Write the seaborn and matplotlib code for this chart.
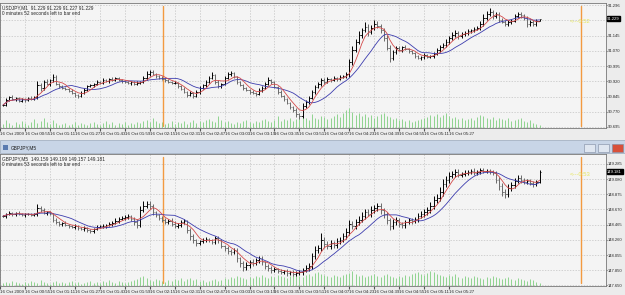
import matplotlib
matplotlib.use("Agg")
import matplotlib.pyplot as plt
import numpy as np
import pandas as pd
import seaborn as sns
from matplotlib.patches import Rectangle

# ---------------- data ----------------
# USDJPY closes, one per bar
close_top = [
    90.804, 90.828, 90.843, 90.833, 90.838, 90.823, 90.833, 90.828, 90.838, 90.833,
    90.843, 90.902, 90.888, 90.917, 90.907, 90.927, 90.942, 90.907, 90.897, 90.888,
    90.883, 90.873, 90.863, 90.853, 90.848, 90.863, 90.878, 90.897, 90.902, 90.907,
    90.917, 90.912, 90.927, 90.922, 90.932, 90.927, 90.937, 90.927, 90.922, 90.917,
    90.912, 90.917, 90.907, 90.912, 90.917, 90.937, 90.956, 90.966, 90.956, 90.947,
    90.937, 90.932, 90.927, 90.917, 90.912, 90.912, 90.897, 90.883, 90.868, 90.853,
    90.863, 90.848, 90.868, 90.888, 90.902, 90.917, 90.937, 90.952, 90.917, 90.897,
    90.907, 90.937, 90.956, 90.961, 90.942, 90.917, 90.902, 90.888, 90.878, 90.868,
    90.863, 90.858, 90.878, 90.888, 90.907, 90.927, 90.917, 90.893, 90.868, 90.848,
    90.833, 90.814, 90.794, 90.779, 90.759, 90.750, 90.799, 90.819, 90.838, 90.868,
    90.893, 90.907, 90.927, 90.917, 90.932, 90.927, 90.937, 90.932, 90.942, 90.947,
    90.956, 91.016, 91.075, 91.114, 91.149, 91.173, 91.188, 91.163, 91.183, 91.203,
    91.193, 91.173, 91.134, 91.085, 91.035, 91.065, 91.085, 91.075, 91.090, 91.080,
    91.070, 91.060, 91.045, 91.035, 91.040, 91.050, 91.040, 91.045, 91.055, 91.075,
    91.090, 91.099, 91.114, 91.134, 91.149, 91.158, 91.144, 91.154, 91.158, 91.168,
    91.173, 91.178, 91.183, 91.203, 91.232, 91.252, 91.262, 91.242, 91.252, 91.222,
    91.213, 91.203, 91.213, 91.218, 91.242, 91.252, 91.247, 91.232, 91.203, 91.213,
    91.203, 91.218, 91.229,
]
# upper / lower wicks in points (0.001)
uw_top = [
    6, 8, 4, 10, 5, 3, 7, 4, 6, 9,
    5, 18, 12, 8, 14, 6, 15, 9, 5, 7,
    4, 6, 8, 3, 5, 7, 9, 5, 6, 4,
    8, 5, 7, 6, 4, 9, 5, 6, 3, 7,
    5, 4, 6, 8, 5, 10, 14, 12, 8, 6,
    5, 7, 4, 6, 5, 8, 4, 6, 7, 5,
    9, 6, 8, 10, 7, 12, 9, 14, 6, 8,
    5, 10, 12, 8, 6, 5, 7, 4, 6, 5,
    8, 6, 9, 7, 10, 12, 6, 5, 4, 7,
    5, 6, 4, 5, 8, 6, 14, 10, 12, 9,
    11, 8, 10, 7, 9, 6, 8, 5, 7, 6,
    10, 16, 20, 14, 18, 12, 22, 15, 14, 18,
    16, 10, 8, 12, 14, 10, 8, 9, 6, 7,
    5, 6, 4, 7, 5, 8, 6, 5, 9, 10,
    8, 12, 14, 10, 12, 15, 9, 11, 8, 10,
    7, 9, 12, 16, 18, 14, 20, 10, 12, 8,
    9, 7, 10, 8, 12, 10, 8, 6, 9, 8,
    10, 7, 0,
]
lw_top = [
    8, 5, 7, 4, 9, 6, 5, 8, 4, 6,
    7, 10, 14, 9, 6, 12, 8, 6, 9, 5,
    7, 5, 6, 9, 8, 6, 4, 7, 5, 8,
    6, 4, 5, 7, 9, 5, 6, 4, 8, 6,
    6, 9, 5, 4, 7, 6, 8, 10, 6, 9,
    7, 5, 8, 4, 6, 7, 9, 8, 6, 10,
    7, 12, 6, 8, 5, 9, 7, 6, 12, 10,
    8, 6, 5, 9, 7, 8, 6, 10, 7, 9,
    6, 8, 5, 9, 6, 7, 10, 8, 9, 6,
    10, 8, 12, 9, 14, 16, 12, 8, 10, 7,
    9, 6, 8, 10, 7, 9, 5, 8, 6, 7,
    9, 14, 16, 12, 10, 14, 12, 18, 10, 12,
    10, 14, 16, 12, 22, 10, 12, 8, 9, 6,
    8, 7, 9, 6, 8, 10, 7, 6, 8, 5,
    9, 7, 10, 12, 8, 10, 14, 9, 12, 8,
    10, 9, 7, 10, 12, 9, 11, 16, 12, 10,
    8, 10, 12, 9, 7, 11, 14, 12, 16, 10,
    8, 9, 2,
]
vol_top = [
    12, 24, 15, 9, 18, 12, 21, 15, 9, 18,
    27, 15, 21, 30, 18, 12, 24, 15, 9, 12,
    15, 9, 12, 18, 9, 15, 12, 9, 15, 18,
    12, 9, 15, 21, 12, 18, 9, 15, 12, 18,
    9, 15, 12, 18, 15, 21, 24, 18, 30, 21,
    15, 18, 12, 15, 21, 12, 18, 15, 21, 12,
    18, 24, 15, 21, 18, 24, 27, 21, 18, 36,
    24, 18, 21, 15, 12, 18, 15, 21, 24, 18,
    15, 21, 18, 24, 27, 21, 18, 24, 36, 21,
    27, 24, 30, 21, 27, 33, 36, 30, 24, 42,
    30, 27, 36, 33, 27, 30, 36, 42, 33, 45,
    54, 60, 48, 39, 45, 36, 42, 33, 39, 30,
    36, 42, 45, 36, 33, 27, 30, 24, 27, 21,
    24, 18, 21, 24, 27, 30, 33, 39, 36, 42,
    33, 39, 45, 36, 30, 33, 27, 30, 24, 27,
    30, 24, 33, 39, 36, 30, 27, 33, 24, 30,
    27, 24, 30, 21, 24, 27, 30, 21, 18, 24,
    15, 12, 9,
]

# GBPJPY
close_bot = [
    148.581, 148.608, 148.622, 148.608, 148.622, 148.608, 148.595, 148.608, 148.608, 148.595,
    148.608, 148.689, 148.662, 148.622, 148.635, 148.608, 148.527, 148.500, 148.473, 148.487,
    148.460, 148.446, 148.433, 148.446, 148.419, 148.406, 148.419, 148.392, 148.379, 148.406,
    148.433, 148.446, 148.446, 148.460, 148.473, 148.487, 148.514, 148.541, 148.554, 148.568,
    148.581, 148.541, 148.500, 148.460, 148.662, 148.716, 148.743, 148.716, 148.635, 148.595,
    148.554, 148.527, 148.500, 148.514, 148.473, 148.446, 148.460, 148.500, 148.514, 148.392,
    148.311, 148.257, 148.217, 148.244, 148.257, 148.271, 148.257, 148.230, 148.284, 148.257,
    148.176, 148.149, 148.109, 148.095, 148.122, 148.015, 147.947, 147.893, 147.920, 147.960,
    147.947, 147.987, 148.015, 147.960, 147.907, 147.880, 147.852, 147.866, 147.839, 147.826,
    147.839, 147.812, 147.826, 147.799, 147.812, 147.826, 147.852, 147.880, 147.907, 148.042,
    148.122, 148.149, 148.257, 148.203, 148.176, 148.217, 148.190, 148.244, 148.257, 148.311,
    148.365, 148.473, 148.446, 148.500, 148.527, 148.581, 148.635, 148.608, 148.662, 148.689,
    148.716, 148.662, 148.608, 148.527, 148.446, 148.500, 148.527, 148.473, 148.460, 148.500,
    148.527, 148.514, 148.541, 148.581, 148.608, 148.635, 148.662, 148.716, 148.797, 148.824,
    148.905, 149.013, 149.067, 149.121, 149.148, 149.175, 149.134, 149.148, 149.161, 149.175,
    149.188, 149.161, 149.175, 149.202, 149.188, 149.188, 149.175, 149.161, 149.067, 148.986,
    148.905, 148.878, 148.959, 148.999, 149.053, 149.094, 149.067, 149.040, 149.053, 149.026,
    149.013, 149.040, 149.181,
]
uw_bot = [
    20, 15, 25, 18, 12, 22, 16, 14, 20, 18,
    15, 60, 30, 25, 18, 20, 15, 25, 20, 18,
    22, 15, 20, 25, 18, 15, 22, 18, 20, 15,
    25, 18, 22, 20, 30, 25, 35, 28, 30, 25,
    22, 18, 25, 40, 55, 70, 45, 35, 25, 20,
    18, 22, 25, 30, 35, 40, 28, 25, 30, 20,
    25, 22, 18, 20, 25, 22, 18, 20, 25, 22,
    18, 20, 25, 22, 30, 25, 20, 28, 35, 30,
    45, 30, 25, 22, 20, 25, 30, 22, 20, 25,
    18, 22, 20, 25, 30, 25, 28, 35, 40, 45,
    50, 40, 100, 45, 35, 40, 30, 35, 40, 45,
    50, 60, 45, 40, 55, 50, 45, 40, 50, 45,
    40, 35, 30, 25, 30, 40, 35, 30, 25, 30,
    28, 25, 30, 35, 40, 35, 45, 50, 55, 60,
    65, 70, 55, 50, 45, 40, 35, 30, 35, 28,
    30, 35, 25, 30, 28, 25, 22, 25, 30, 35,
    40, 45, 50, 40, 35, 45, 40, 30, 25, 30,
    22, 25, 20,
]
lw_bot = [
    18, 22, 15, 20, 25, 15, 18, 22, 15, 20,
    18, 25, 30, 20, 22, 15, 25, 30, 22, 28,
    20, 25, 18, 22, 28, 20, 25, 22, 30, 25,
    20, 18, 22, 25, 20, 22, 18, 25, 20, 22,
    25, 30, 45, 40, 30, 25, 30, 35, 40, 30,
    25, 22, 30, 25, 28, 22, 25, 30, 28, 45,
    50, 40, 35, 30, 25, 30, 28, 25, 30, 35,
    30, 40, 35, 45, 30, 50, 60, 55, 45, 40,
    35, 30, 40, 35, 45, 40, 35, 30, 28, 25,
    30, 35, 30, 25, 30, 28, 35, 30, 40, 45,
    40, 45, 40, 50, 45, 40, 35, 40, 35, 30,
    40, 35, 45, 40, 35, 30, 35, 30, 35, 40,
    45, 50, 55, 60, 50, 45, 40, 45, 35, 40,
    30, 35, 30, 35, 30, 40, 35, 40, 45, 40,
    45, 50, 40, 35, 30, 35, 30, 28, 25, 30,
    22, 25, 30, 25, 28, 22, 25, 30, 45, 50,
    55, 60, 45, 40, 35, 30, 35, 30, 25, 30,
    35, 30, 15,
]
vol_bot = [
    9, 12, 9, 15, 12, 9, 6, 12, 9, 15,
    12, 9, 18, 12, 9, 6, 12, 15, 9, 12,
    9, 12, 15, 9, 12, 6, 9, 12, 15, 9,
    12, 9, 15, 12, 18, 12, 9, 15, 12, 9,
    12, 15, 18, 21, 27, 30, 24, 18, 15, 21,
    18, 15, 12, 18, 15, 21, 18, 24, 15, 21,
    24, 18, 21, 15, 18, 12, 15, 18, 21, 15,
    18, 24, 21, 27, 24, 30, 27, 24, 21, 27,
    24, 30, 27, 33, 27, 24, 30, 27, 33, 30,
    27, 24, 30, 36, 33, 30, 27, 33, 36, 30,
    39, 42, 36, 33, 30, 27, 33, 30, 27, 33,
    36, 39, 45, 36, 30, 33, 27, 30, 33, 36,
    30, 27, 33, 36, 30, 27, 24, 30, 27, 33,
    30, 36, 39, 42, 36, 33, 39, 45, 42, 36,
    33, 30, 27, 33, 30, 36, 27, 24, 30, 27,
    24, 30, 27, 24, 21, 27, 24, 30, 27, 24,
    21, 24, 27, 21, 18, 24, 21, 18, 15, 21,
    18, 12, 9,
]

time_labels = [
    "16 Oct 2009", "16 Oct 00:55", "16 Oct 01:11", "16 Oct 01:27", "16 Oct 01:43",
    "16 Oct 01:59", "16 Oct 02:15", "16 Oct 02:31", "16 Oct 02:47", "16 Oct 03:03",
    "16 Oct 03:19", "16 Oct 03:35", "16 Oct 03:51", "16 Oct 04:07", "16 Oct 04:23",
    "16 Oct 04:39", "16 Oct 04:55", "16 Oct 05:11", "16 Oct 05:27",
]
bars_per_label = 8
# price grid levels; "" where the last-price box covers the label
top_levels = [90.695, 90.770, 90.845, 90.920, 90.995, 91.070, 91.145, 91.220, 91.296]
top_level_labels = ["90.695", "90.770", "90.845", "90.920", "90.995", "91.070", "91.145", "", "91.296"]
bot_levels = [147.650, 147.850, 148.055, 148.260, 148.465, 148.670, 148.875, 149.080, 149.285]
bot_level_labels = ["147.650", "147.850", "148.055", "148.260", "148.465", "148.670",
                    "148.875", "149.080", "149.285"]
separator_bars = [51.2, 185.4]

top_header = ["USDJPY,M1  91.229 91.229 91.227 91.229", "0 minutes 52 seconds left to bar end"]
bot_header = ["GBPJPY,M5  149.159 149.199 149.157 149.181", "0 minutes 53 seconds left to bar end"]
top_timer = "<---0:52"
bot_timer = "<---0:53"

# ---------------- figure ----------------
W, H = 625, 295
sns.set_style("white")
plt.rcParams["font.family"] = ["Liberation Sans", "DejaVu Sans"]
FS = 3.4     # header text
FSY = 3.0    # price labels
FSX = 3.15   # time labels

fig = plt.figure(figsize=(W / 100, H / 100), dpi=100)
fig.patch.set_facecolor("#ececec")


def rect(x0, y0, x1, y1):
    return [x0 / W, 1 - y1 / H, (x1 - x0) / W, (y1 - y0) / H]


def draw_panel(ax, close, uw, lw, vol, levels, level_labels, ylim, vol_scale, header, timer):
    close = np.asarray(close)
    x = np.arange(len(close))
    opn = np.r_[close[0], close[:-1]]
    high = np.maximum(opn, close) + np.asarray(uw) / 1000
    low = np.minimum(opn, close) - np.asarray(lw) / 1000
    colors = np.where(close >= opn, "#000000", "#6a6a6a")

    ax.set_facecolor("#f4f4f4")
    ax.set_axisbelow(True)
    ax.grid(True, color="#c2c2c2", lw=0.5, ls=(0, (2, 2)))

    # volume along the bottom
    ax.vlines(x, 0, np.asarray(vol) / vol_scale, transform=ax.get_xaxis_transform(),
              color="#8fd48f", lw=0.7, zorder=1)
    for s in separator_bars:
        ax.axvline(s, ymin=0.02, ymax=0.98, color="#f39a40", lw=1.0, zorder=1)

    # OHLC bars
    ax.vlines(x, low, high, colors=colors, lw=0.7, zorder=3)
    ax.hlines(opn, x - 0.45, x, colors=colors, lw=0.6, zorder=3)
    ax.hlines(close, x, x + 0.45, colors=colors, lw=0.6, zorder=3)

    # moving averages
    df = pd.DataFrame({"bar": x,
                       "fast": pd.Series(close).rolling(5, min_periods=1).mean(),
                       "slow": pd.Series(close).rolling(12, min_periods=1).mean()})
    sns.lineplot(data=df, x="bar", y="slow", ax=ax, color="#3c3cae", lw=0.6, zorder=4)
    sns.lineplot(data=df, x="bar", y="fast", ax=ax, color="#d44a4a", lw=0.6, zorder=4)
    ax.set_xlabel("")
    ax.set_ylabel("")

    ax.set_xlim(-0.64, 193.3)
    ax.set_ylim(*ylim)
    ax.set_xticks(np.arange(len(time_labels)) * bars_per_label - 1)
    ax.set_xticklabels(time_labels, ha="left", fontsize=FSX)
    ax.yaxis.tick_right()
    ax.set_yticks(levels)
    ax.set_yticklabels(level_labels, fontsize=FSY)
    ax.tick_params(axis="x", length=2, pad=1, color="#555555", bottom=True)
    ax.tick_params(axis="y", length=1.0, pad=0.5, color="#555555", right=True)
    for sp in ax.spines.values():
        sp.set_color("#777777")
        sp.set_linewidth(0.6)

    # last price box and bar timer
    ax.text(1.002, close[-1], f"{close[-1]:.3f}", transform=ax.get_yaxis_transform(),
            ha="left", va="center", fontsize=FSY, color="white",
            bbox=dict(boxstyle="square,pad=0.15", fc="black", ec="black"))
    ax.text(0.94, close[-1], timer, transform=ax.get_yaxis_transform(),
            ha="left", va="top", fontsize=4.2, color="#e6e65a")

    ax.text(0.003, 0.985, header[0], transform=ax.transAxes, fontsize=FS, va="top", ha="left")
    ax.text(0.003, 0.985 - 6.0 / (ax.get_position().height * H), header[1],
            transform=ax.transAxes, fontsize=FS, va="top", ha="left")


ax_top = fig.add_axes(rect(0, 3, 606, 128))
draw_panel(ax_top, close_top, uw_top, lw_top, vol_top, top_levels, top_level_labels,
           (90.690, 91.306), 370, top_header, top_timer)

# window title bar of the second chart
fig.patches.append(Rectangle((0, 1 - 153 / H), 1, 13 / H, transform=fig.transFigure,
                             fc="#c8d5e7", ec="#9aa8bc", lw=0.5))
fig.patches.append(Rectangle((3 / W, 1 - 150 / H), 5 / W, 5 / H, transform=fig.transFigure,
                             fc="#5a7bb0", ec="none"))
fig.text(11 / W, 1 - 147.5 / H, "GBPJPY,M5", fontsize=FS, va="center", ha="left", color="#1a1a1a")
for bx, col in [(584, "#dfe6f0"), (598, "#dfe6f0"), (612, "#d8503a")]:
    fig.patches.append(Rectangle((bx / W, 1 - 151.5 / H), 11 / W, 8 / H,
                                 transform=fig.transFigure, fc=col, ec="#7d8aa0", lw=0.4))

ax_bot = fig.add_axes(rect(0, 154, 606, 286))
draw_panel(ax_bot, close_bot, uw_bot, lw_bot, vol_bot, bot_levels, bot_level_labels,
           (147.637, 149.418), 400, bot_header, bot_timer)

fig.savefig("out.png", dpi=100, facecolor=fig.get_facecolor())
